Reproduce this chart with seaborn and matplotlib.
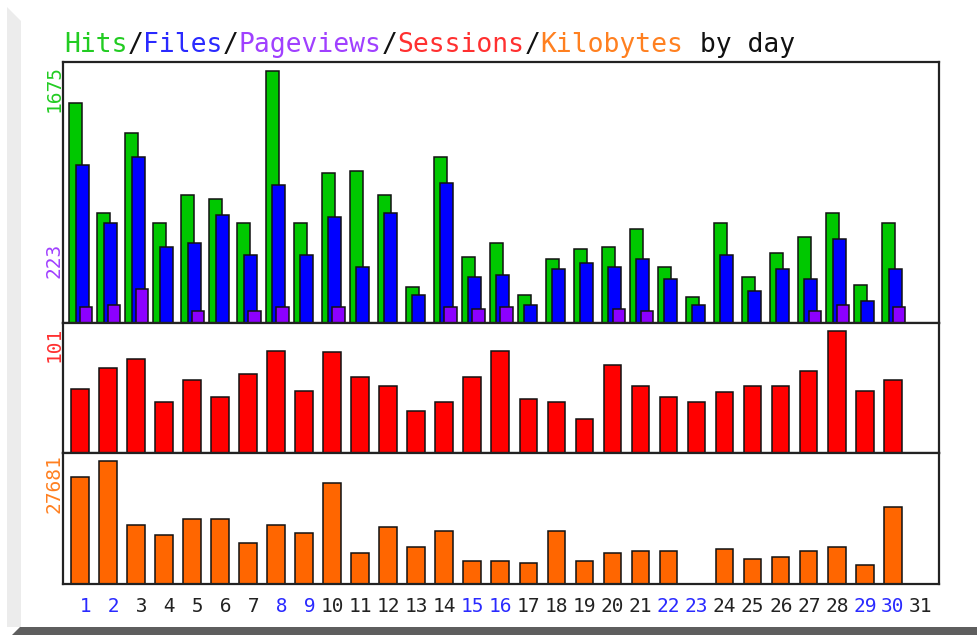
import matplotlib
matplotlib.use('Agg')
import matplotlib.pyplot as plt
from matplotlib.patches import Polygon
import seaborn as sns
import numpy as np
import pandas as pd

# daily stats
days = list(range(1, 32))
hits = [1464, 729, 1265, 663, 851, 824, 663, 1675, 663, 995, 1010, 851, 237, 1103, 437, 532,
        184, 423, 490, 503, 623, 370, 171, 663, 304, 463, 570, 729, 251, 663, 0]
files = [1050, 665, 1103, 505, 532, 718, 452, 917, 452, 705, 372, 731, 184, 930, 306, 319,
         118, 357, 397, 370, 423, 290, 118, 450, 211, 357, 290, 556, 144, 357, 0]
pageviews = [104, 118, 223, 0, 78, 0, 78, 104, 0, 104, 0, 0, 0, 104, 91, 104,
             0, 0, 0, 91, 78, 0, 0, 0, 0, 0, 78, 118, 0, 104, 0]
sessions = [53, 70, 78, 42, 60, 46, 65, 84, 51, 83, 63, 55, 35, 42, 63, 84,
            45, 42, 28, 73, 55, 46, 42, 50, 55, 55, 68, 101, 51, 60, 0]
kilobytes = [24080, 27681, 13278, 11028, 14628, 14628, 9227, 13278, 11478, 22730, 6977, 12828,
             8327, 11928, 5176, 5176, 4652, 11928, 5176, 6902, 7427, 7427, 0, 7877, 5626, 6077,
             7427, 8327, 4276, 17329, 0]
weekend_days = [1, 2, 8, 9, 15, 16, 22, 23, 29, 30]

title_parts = [('Hits', '#22cc22'), ('/', '#111111'), ('Files', '#2a2aff'), ('/', '#111111'),
               ('Pageviews', '#a040ff'), ('/', '#111111'), ('Sessions', '#ff3030'),
               ('/', '#111111'), ('Kilobytes', '#ff8020'), (' by day', '#111111')]

df = pd.DataFrame({'day': days, 'hits': hits, 'files': files, 'pageviews': pageviews,
                   'sessions': sessions, 'kilobytes': kilobytes})

sns.set_theme(style='white')
plt.rcParams['font.family'] = ['DejaVu Sans Mono', 'DejaVu Sans']

W, H = 977, 635
fig = plt.figure(figsize=(W / 100, H / 100), dpi=100)
fig.patch.set_facecolor('white')


def fx(px):
    return px / W


def fy(py):
    return 1 - py / H


# bevel frame around the image
fig.patches.append(Polygon([(fx(7), fy(7)), (fx(21), fy(21)), (fx(21), fy(627)), (fx(7), fy(627))],
                           closed=True, transform=fig.transFigure, facecolor='#ececec',
                           edgecolor='none', zorder=-5))
fig.patches.append(Polygon([(fx(12), fy(635)), (fx(20), fy(627)), (fx(977), fy(627)), (fx(977), fy(635))],
                           closed=True, transform=fig.transFigure, facecolor='#5e5e5e',
                           edgecolor='none', zorder=-5))

left, right = 63, 939
ax1 = fig.add_axes([fx(left), fy(323), fx(right - left), (323 - 62) / H])
ax2 = fig.add_axes([fx(left), fy(453), fx(right - left), 130 / H])
ax3 = fig.add_axes([fx(left), fy(584), fx(right - left), 131 / H])

edge = dict(edgecolor='#111111', linewidth=1.1)


def bars(ax, col, offset, width, color):
    sub = df[df[col] > 0]
    sns.barplot(x=sub['day'] + offset, y=sub[col], native_scale=True, width=width,
                color=color, saturation=1, errorbar=None, ax=ax, **edge)


bars(ax1, 'hits', -0.15, 0.464, '#00c800')
bars(ax1, 'files', 0.078, 0.464, '#0000ff')
bars(ax1, 'pageviews', 0.22, 0.44, '#8c00ff')
bars(ax2, 'sessions', -0.005, 0.63, '#ff0000')
bars(ax3, 'kilobytes', -0.005, 0.63, '#ff6600')

ylims = [max(hits) * 261 / 252, max(sessions) * 130 / 122.3, max(kilobytes) * 131 / 123]
for ax, top in zip([ax1, ax2, ax3], ylims):
    ax.set_xlim(0.3935, 31.645)
    ax.set_ylim(0, top)
    ax.set_xlabel('')
    ax.set_ylabel('')
    ax.set_yticks([])
    ax.set_facecolor('white')
    for sp in ax.spines.values():
        sp.set_color('#222222')
        sp.set_linewidth(1.6)
        sp.set_visible(True)

ax1.set_xticks([])
ax2.set_xticks([])
ax3.set_xticks(days)
ax3.set_xticklabels([f'{d:2d}' for d in days], fontsize=14)
ax3.tick_params(axis='x', length=0, pad=9)
for d, lab in zip(days, ax3.get_xticklabels()):
    lab.set_color('#2a2aff' if d in weekend_days else '#222222')

# max value labels on the left
ylab = dict(rotation=90, ha='center', va='center', fontsize=14)
fig.text(fx(54), fy(88), f'{max(hits)}', color='#22cc22', **ylab)
fig.text(fx(54), fy(260), f'{max(pageviews)}', color='#a040ff', **ylab)
fig.text(fx(54), fy(344), f'{max(sessions)}', color='#ff3030', **ylab)
fig.text(fx(54), fy(484), f'{max(kilobytes)}', color='#ff8020', **ylab)

# coloured title, monospace so each part starts at a fixed char offset
title_size = 19
char_w = 0.602 * title_size * 100 / 72
pos = 0
for txt, col in title_parts:
    fig.text(fx(64 + pos * char_w), fy(52), txt, color=col, fontsize=title_size,
             ha='left', va='baseline')
    pos += len(txt)

fig.savefig('out.png', dpi=100, facecolor='white')
